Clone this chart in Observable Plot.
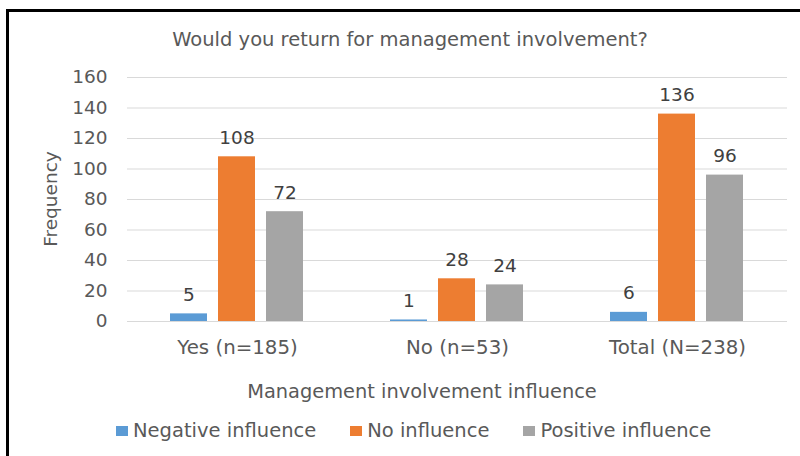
<!DOCTYPE html>
<html>
<head>
<meta charset="utf-8">
<script src="https://cdn.jsdelivr.net/npm/d3@7"></script>
<script src="https://cdn.jsdelivr.net/npm/@observablehq/plot@0.6"></script>
<style>
  html, body { margin: 0; padding: 0; background: #fff; }
  #wrap { position: relative; width: 800px; height: 456px; overflow: hidden; background: #fff; font-family: "DejaVu Sans", sans-serif; color: #595959; }
  #frame { position: absolute; left: 6px; top: 9px; width: 820px; height: 480px; border: 3px solid #000; box-sizing: border-box; }
  #chart { position: absolute; left: 0; top: 0; }
  #title { position: absolute; left: 0; width: 820px; top: 29px; text-align: center; font-size: 19.5px; line-height: 22px; white-space: nowrap; }
  #xtitle { position: absolute; left: 0; width: 844px; top: 380px; text-align: center; font-size: 19.4px; line-height: 24px; white-space: nowrap; }
  #legend { position: absolute; left: 116px; top: 419px; display: flex; align-items: center; font-size: 19.5px; line-height: 24px; white-space: nowrap; }
  .item { display: flex; align-items: center; margin-right: 34px; }
  .sw { width: 12px; height: 10px; margin-right: 5px; }
</style>
</head>
<body>
<div id="wrap">
  <div id="frame"></div>
  <div id="chart"></div>
  <div id="title"></div>
  <div id="xtitle"></div>
  <div id="legend"></div>
</div>
<script>
const titleText = "Would you return for management involvement?";
const xTitle = "Management involvement influence";
const yTitle = "Frequency";
const groups = ["Yes (n=185)", "No (n=53)", "Total (N=238)"];
const series = ["Negative influence", "No influence", "Positive influence"];
const negative = [5, 1, 6];
const noInfluence = [108, 28, 136];
const positive = [72, 24, 96];
const yTicks = [0, 20, 40, 60, 80, 100, 120, 140, 160];
const colors = ["#5B9BD5", "#ED7D31", "#A5A5A5"];

const seriesValues = [negative, noInfluence, positive];
const data = groups.flatMap((g, i) => series.map((s, j) => ({group: g, series: s, value: seriesValues[j][i]})));

const chart = Plot.plot({
  width: 800,
  height: 456,
  marginLeft: 126,
  marginRight: 13,
  marginTop: 77,
  marginBottom: 135,
  style: {fontFamily: "DejaVu Sans, sans-serif", color: "#595959", background: "transparent", overflow: "visible"},
  fx: {domain: groups, padding: 0, label: null},
  x: {domain: series, paddingInner: 0.22, paddingOuter: 0.855, axis: null},
  y: {domain: [0, 160], label: null},
  color: {domain: series, range: colors},
  marks: [
    Plot.ruleY(yTicks, {stroke: "#d9d9d9", strokeWidth: 1}),
    Plot.barY(data, {fx: "group", x: "series", y: "value", fill: "series"}),
    Plot.text(data, {fx: "group", x: "series", y: "value", text: d => String(d.value), dy: -19, fill: "#404040", fontSize: 18.5}),
    Plot.axisY(yTicks, {tickSize: 0, tickPadding: 20, fontSize: 18.5, label: null}),
    Plot.axisFx({anchor: "bottom", tickSize: 0, tickPadding: 18, fontSize: 19.8, label: null})
  ]
});
document.getElementById("chart").appendChild(chart);

// rotated y title as svg text
const svg = d3.select(chart);
svg.append("text")
  .attr("transform", "translate(50,199) rotate(-90)")
  .attr("text-anchor", "middle")
  .attr("dominant-baseline", "central")
  .attr("fill", "#595959")
  .attr("font-size", 18.5)
  .attr("font-family", "DejaVu Sans, sans-serif")
  .text(yTitle);

document.getElementById("title").textContent = titleText;
document.getElementById("xtitle").textContent = xTitle;
const legend = document.getElementById("legend");
series.forEach((s, i) => {
  const item = document.createElement("div");
  item.className = "item";
  const sw = document.createElement("div");
  sw.className = "sw";
  sw.style.background = colors[i];
  const label = document.createElement("span");
  label.textContent = s;
  item.appendChild(sw);
  item.appendChild(label);
  legend.appendChild(item);
});
</script>
</body>
</html>
